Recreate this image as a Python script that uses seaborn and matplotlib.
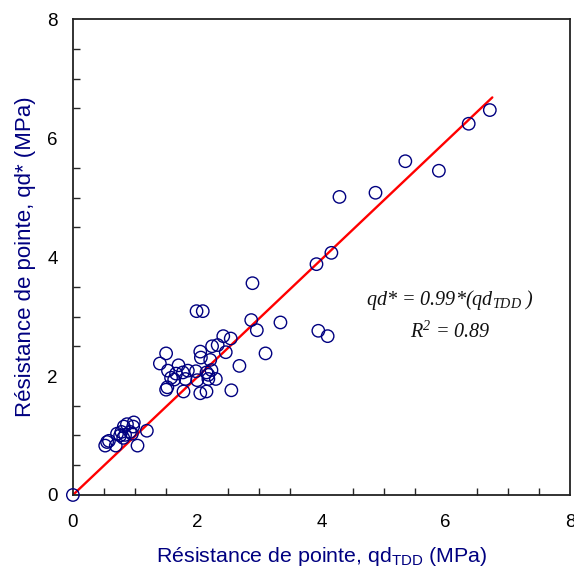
import numpy as np
import pandas as pd
import matplotlib
matplotlib.use("Agg")
import matplotlib.pyplot as plt
from matplotlib.ticker import MultipleLocator
import seaborn as sns

# ── Data ───────────────────────────────────────────────────────────────────────
qd_tdd = [0.00, 0.52, 0.55, 0.58, 0.69, 0.71, 0.76, 0.78, 0.82, 0.87, 0.92, 0.98,
          0.97, 0.95, 0.84, 0.81, 1.04, 1.19,
          1.40, 1.50, 1.50, 1.52, 1.53, 1.58, 1.63, 1.66, 1.70, 1.77, 1.78, 1.81,
          1.85, 1.98, 1.99, 2.00, 2.05, 2.05, 2.06, 2.09, 2.15, 2.15, 2.18, 2.18,
          2.21, 2.23, 2.24, 2.30, 2.33, 2.42, 2.46, 2.54, 2.55, 2.68, 2.87, 2.89,
          2.96, 3.10, 3.34, 3.92, 3.95, 4.10, 4.16, 4.29, 4.87, 5.35, 5.89, 6.37, 6.71]
qd_star = [0.00, 0.83, 0.89, 0.91, 0.83, 1.03, 1.00, 1.06, 1.15, 1.19, 1.06, 1.22,
           1.15, 1.03, 1.01, 0.96, 0.83, 1.08,
           2.21, 2.38, 1.77, 1.81, 2.09, 1.97, 1.94, 2.04, 2.18, 2.06, 1.74, 1.95,
           2.09, 2.08, 3.09, 1.93, 2.41, 1.71, 2.31, 3.09, 2.06, 1.74, 1.95, 2.02,
           2.27, 2.10, 2.50, 1.95, 2.52, 2.67, 2.40, 2.63, 1.76, 2.17, 2.94, 3.56,
           2.77, 2.38, 2.90, 3.88, 2.76, 2.67, 4.07, 5.01, 5.08, 5.61, 5.45, 6.24, 6.47]
fit_x = [0.0, 6.75]
slope = 0.99

NAVY = "#000080"
RED = "#ff0000"

sns.set_style("white")
plt.rcParams["font.family"] = ["Liberation Sans", "DejaVu Sans"]
plt.rcParams["mathtext.fontset"] = "custom"
plt.rcParams["mathtext.rm"] = "Liberation Serif:italic"
plt.rcParams["mathtext.it"] = "Liberation Serif:italic"
plt.rcParams["mathtext.sf"] = "Liberation Sans"

df = pd.DataFrame({"qd_tdd": qd_tdd, "qd_star": qd_star})
fit = pd.DataFrame({"x": fit_x, "y": [slope * v for v in fit_x]})

fig = plt.figure(figsize=(5.74, 5.70), dpi=100)
ax = fig.add_axes([0.127, 0.1316, 0.866, 0.835])

sns.lineplot(data=fit, x="x", y="y", color=RED, linewidth=1.7, ax=ax, zorder=2)
sns.scatterplot(data=df, x="qd_tdd", y="qd_star", ax=ax, s=80, marker="o",
                facecolor="none", edgecolor=NAVY, linewidth=1.0, zorder=3, clip_on=False)

ax.set_xlim(0, 8)
ax.set_ylim(0, 8)
ax.xaxis.set_major_locator(MultipleLocator(2))
ax.yaxis.set_major_locator(MultipleLocator(2))
ax.xaxis.set_minor_locator(MultipleLocator(0.5))
ax.yaxis.set_minor_locator(MultipleLocator(0.5))
ax.tick_params(axis="x", which="major", direction="inout", length=9, width=1.2,
               labelsize=13.5, pad=9, colors="black")
ax.tick_params(axis="y", which="major", direction="out", length=6, width=1.2,
               labelsize=13.5, pad=5, colors="black")
ax.tick_params(which="minor", direction="in", length=5, width=1.0, bottom=True, left=True)

for sp in ax.spines.values():
    sp.set_color("#222222")
    sp.set_linewidth(1.3)

ax.set_xlabel("Résistance de pointe, qd$_{\\mathsf{TDD}}$ (MPa)", color=NAVY,
              fontsize=15.4, labelpad=10)
ax.set_ylabel("Résistance de pointe, qd* (MPa)", color=NAVY, fontsize=16, labelpad=8)

ax.text(6.07, 3.28, "qd* = 0.99*(qd$_{TDD}$ )", ha="center", va="center",
        fontsize=14.5, color="#111111", family="Liberation Serif", style="italic")
ax.text(6.08, 2.74, "R$^{2}$ = 0.89", ha="center", va="center",
        fontsize=14.5, color="#111111", family="Liberation Serif", style="italic")

fig.savefig("out.png", dpi=100)
